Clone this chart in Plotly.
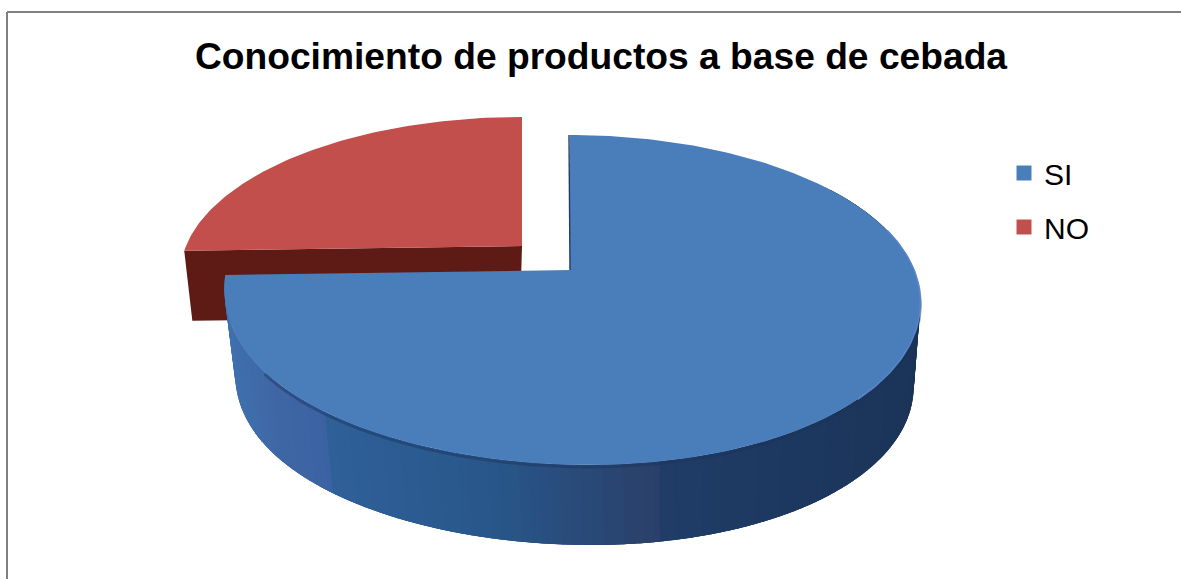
import numpy as np
import plotly.graph_objects as go

TITLE = "Conocimiento de productos a base de cebada"
categories = ["SI", "NO"]
shares = [74.5, 25.5]

TOP_COLORS = {"SI": "#4A7EBB", "NO": "#C24F4B"}
LEGEND_COLORS = {"SI": "#4A7EBB", "NO": "#C0504D"}
RED_WALL = "#5E1B15"
TILT = 0.1818
SEAMS = [333, 660]

# Wall shading as stops along the page width; hard steps sit at the panel seams.
WALL_STOPS = [
    (225, "#3F73B0"), (285, "#3F66A4"), (333, "#3B62A2"),
    (333.01, "#2F6098"), (500, "#28568A"), (660, "#2A3F68"),
    (660.01, "#1F3D68"), (920, "#1B3357"),
]

end_si = 360 * shares[0] / sum(shares)


def rim(angles, cx, cy, a, b, skew=0.0, pinch=0.0):
    """Project a disc rim to the page; angles run clockwise from 12 o'clock."""
    t = np.radians(angles)
    u, v = np.sin(t), np.cos(t)
    d = 1 + TILT * v
    w = np.maximum(-v, 0)
    # The lower left quadrant sits slightly further in than the lower right.
    inset = pinch * w * (1 - w) ** 2 * (u < 0)
    return cx + (a * u + skew * w ** 2) / d + inset, cy - b * v / d


def blend(c1, c2, f):
    a = [int(c1[i:i + 2], 16) for i in (1, 3, 5)]
    b = [int(c2[i:i + 2], 16) for i in (1, 3, 5)]
    return "#%02x%02x%02x" % tuple(round(p + (q - p) * f) for p, q in zip(a, b))


def wall_color(x):
    for (x0, c0), (x1, c1) in zip(WALL_STOPS[:-1], WALL_STOPS[1:]):
        if x <= x1:
            return blend(c0, c1, max(0, (x - x0) / (x1 - x0)))
    return WALL_STOPS[-1][1]


def poly(fig, xs, ys, color, edge=0.0):
    fig.add_trace(go.Scatter(
        x=list(xs), y=list(ys), mode="lines", fill="toself", fillcolor=color,
        line=dict(color=color, width=edge), showlegend=False, hoverinfo="skip",
    ))


fig = go.Figure()

# Pulled-out slice: cut face first, then its top.
RCX, RCY, RA, RB = 522, 246, 336, 152.5
rx, ry = rim(np.linspace(end_si, 360, 90), RCX, RCY, RA, RB)
rx0, ry0 = rim(np.array([end_si]), RCX, RCY, RA, RB)
poly(fig,
     [RCX, rx0[0], RCX + (rx0[0] - RCX) * 0.976, RCX - 2],
     [RCY, ry0[0], ry0[0] + 70, RCY + 70],
     RED_WALL)
poly(fig, np.r_[RCX, rx], np.r_[RCY, ry], TOP_COLORS["NO"])

# Side wall of the large slice: each strip runs under the next so no gaps show.
CX, CY, A, B, SKEW, PINCH = 570, 270, 344, 159.5, 15, 35
BCX, DROP, SHRINK = 572, 85, 0.975


def upper(angles):
    return rim(angles, CX, CY, A, B, SKEW, PINCH)


def lower(angles):
    return rim(angles, BCX, CY + DROP, A * SHRINK, B * SHRINK, SKEW, PINCH)


# Strip boundaries include the angles where the lower rim crosses each seam.
dense = np.linspace(100, 260, 2000)
seam_angles = np.interp(SEAMS, lower(dense)[0][::-1], dense[::-1])
edges = np.unique(np.r_[np.linspace(55, end_si, 150), seam_angles])
for a0, a1 in zip(edges[:-1], edges[1:]):
    seg = np.linspace(a0, min(a1 + 3, end_si), 4)
    tx, ty = upper(seg)
    bx, by = lower(seg)
    visible = lower(np.array([(a0 + a1) / 2]))[0][0]
    poly(fig, np.r_[tx, bx[::-1]], np.r_[ty, by[::-1]], wall_color(visible))

# Soft dark band where the wall meets the top.
dx, dy = rim(np.linspace(75, 235, 120), CX, CY + 2, A, B, SKEW, PINCH)
fig.add_trace(go.Scatter(x=dx, y=dy, mode="lines",
                         line=dict(color="rgba(27,50,90,0.45)", width=3),
                         showlegend=False, hoverinfo="skip"))

# Top of the large slice.
sx, sy = upper(np.linspace(0, end_si, 240))
poly(fig, np.r_[CX, sx], np.r_[CY, sy], TOP_COLORS["SI"])

# Thin dark edge where the cut meets the gap, and a light lip along the front rim.
ex, ey = upper(np.array([0.0]))
fig.add_trace(go.Scatter(x=[CX, ex[0] - 1], y=[CY, ey[0]], mode="lines",
                         line=dict(color="#1F3D68", width=1.4),
                         showlegend=False, hoverinfo="skip"))
lx, ly = upper(np.linspace(75, 135, 60))
fig.add_trace(go.Scatter(x=lx, y=ly, mode="lines",
                         line=dict(color="#5A84CC", width=1.5),
                         showlegend=False, hoverinfo="skip"))

# Legend entries with square keys.
for name in categories:
    fig.add_trace(go.Scatter(
        x=[None], y=[None], mode="markers", name=name, legendgroup=name,
        marker=dict(symbol="square", size=15, color=LEGEND_COLORS[name]),
    ))

fig.update_layout(
    width=1181, height=579,
    margin=dict(l=0, r=0, t=0, b=0),
    paper_bgcolor="white", plot_bgcolor="white",
    xaxis=dict(range=[0, 1181], visible=False, fixedrange=True),
    yaxis=dict(range=[579, 0], visible=False, fixedrange=True),
    title=dict(text="<b>" + TITLE + "</b>", x=601 / 1181, xanchor="center",
               y=1 - 56 / 579, yanchor="middle",
               font=dict(family="Liberation Sans", size=37.2, color="#000000")),
    legend=dict(x=1004 / 1181, xanchor="left", y=1 - 147 / 579, yanchor="top",
                font=dict(family="Liberation Sans", size=30, color="#000000"),
                itemwidth=30, tracegroupgap=12, bgcolor="rgba(0,0,0,0)"),
    shapes=[
        dict(type="line", xref="paper", yref="paper", x0=7 / 1181, x1=1, y0=1 - 12 / 579, y1=1 - 12 / 579,
             line=dict(color="#808080", width=2)),
        dict(type="line", xref="paper", yref="paper", x0=7 / 1181, x1=7 / 1181, y0=0, y1=1 - 12 / 579,
             line=dict(color="#808080", width=2)),
    ],
)

fig.write_html("out.html")
